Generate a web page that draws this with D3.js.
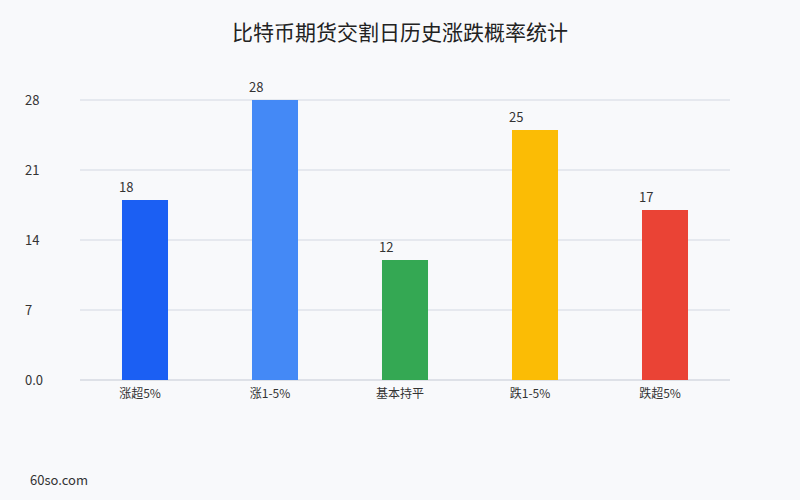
<!DOCTYPE html>
<html>
<head>
<meta charset="utf-8">
<script src="https://cdn.jsdelivr.net/npm/d3@7"></script>
<style>
  body { margin: 0; background: #f8f9fb; }
  text { font-family: "Noto Sans CJK SC", "Noto Sans", sans-serif; }
</style>
</head>
<body>
<div class="vis-barchart"></div>
<script>
const categories = ["涨超5%", "涨1-5%", "基本持平", "跌1-5%", "跌超5%"];
const counts = [18, 28, 12, 25, 17];
const barColors = ["#1b5ff3", "#4489f6", "#34a853", "#fbbc05", "#ea4335"];
const yTicks = [0, 7, 14, 21, 28];
const yTickLabels = ["0.0", "7", "14", "21", "28"];

const W = 800, H = 500;
const margin = {top: 100, right: 70, bottom: 120, left: 80};
const width = W - margin.left - margin.right;
const height = H - margin.top - margin.bottom;

const root = d3.select('.vis-barchart').append('svg')
    .attr('width', W)
    .attr('height', H);

root.append('rect').attr('width', W).attr('height', H).attr('fill', '#f8f9fb');

root.append('text')
    .attr('x', W / 2).attr('y', 40)
    .attr('text-anchor', 'middle')
    .style('font-size', '21px')
    .style('fill', '#222')
    .text('比特币期货交割日历史涨跌概率统计');

const svg = root.append('g')
    .attr('transform', 'translate(' + margin.left + ',' + margin.top + ')');

const x = d3.scaleBand()
    .domain(categories)
    .range([0, width])
    .paddingInner(0.646)
    .paddingOuter(0.323);

const y = d3.scaleLinear()
    .domain([0, 28])
    .range([height, 0]);

// grid lines
svg.selectAll('line.grid')
    .data(yTicks)
    .enter()
    .append('line')
    .attr('class', 'grid')
    .attr('x1', 0).attr('x2', width)
    .attr('y1', d => y(d)).attr('y2', d => y(d))
    .attr('stroke', d => d === 0 ? '#c4c9d4' : '#d3d8e2')
    .attr('stroke-width', 1);

// y tick labels
svg.selectAll('text.ytick')
    .data(yTicks)
    .enter()
    .append('text')
    .attr('class', 'ytick')
    .attr('x', -55)
    .attr('y', d => y(d))
    .attr('dy', '0.35em')
    .style('font-size', '13px')
    .style('fill', '#333')
    .text((d, i) => yTickLabels[i]);

// bars
svg.selectAll('rect.bar')
    .data(counts)
    .enter()
    .append('rect')
    .attr('class', 'bar')
    .attr('x', (d, i) => x(categories[i]))
    .attr('y', d => y(d))
    .attr('width', x.bandwidth())
    .attr('height', d => height - y(d))
    .attr('fill', (d, i) => barColors[i]);

// value labels
svg.selectAll('text.val')
    .data(counts)
    .enter()
    .append('text')
    .attr('class', 'val')
    .attr('x', (d, i) => x(categories[i]) - 3)
    .attr('y', d => y(d) - 8)
    .style('font-size', '13px')
    .style('fill', '#333')
    .text(d => d);

// x labels
svg.selectAll('text.xlab')
    .data(categories)
    .enter()
    .append('text')
    .attr('class', 'xlab')
    .attr('x', d => x(d) + x.bandwidth() / 2 - 5)
    .attr('y', height + 18)
    .attr('text-anchor', 'middle')
    .style('font-size', '12px')
    .style('fill', '#333')
    .text(d => d);

root.append('text')
    .attr('x', 30).attr('y', 485)
    .style('font-size', '13px')
    .style('fill', '#333')
    .text('60so.com');
</script>
</body>
</html>
